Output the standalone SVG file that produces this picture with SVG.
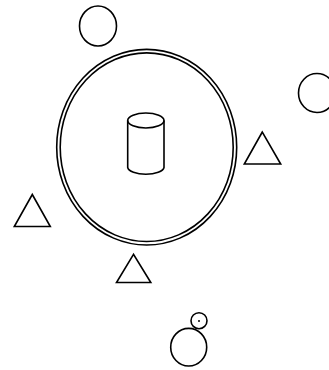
<svg xmlns="http://www.w3.org/2000/svg" width="329" height="370" viewBox="0 0 329 370">
<style>
.s{fill:none;stroke:#000;stroke-width:1.6}
</style>
<rect width="329" height="370" fill="#fff"/>
<g id="top-circle"><ellipse class="s" cx="98" cy="26" rx="18.5" ry="20"/></g>
<g id="right-circle"><ellipse class="s" cx="317" cy="93" rx="18.5" ry="19.5"/></g>
<g id="big-ring">
<ellipse class="s" cx="146.7" cy="147.2" rx="90" ry="97.8"/>
<ellipse class="s" cx="146.7" cy="147.2" rx="86.5" ry="94.3"/>
</g>
<g id="cylinder">
<path class="s" d="M127.7,120.5 V167.5 A18.2,7.3 0 0 0 164,167.5 V120.5"/>
<ellipse class="s" cx="145.85" cy="120.5" rx="18.15" ry="7.5"/>
</g>
<g id="tri-right"><polygon class="s" points="262.3,132 244.3,164 280.7,164"/></g>
<g id="tri-left"><polygon class="s" points="32.3,194.5 14.3,226.5 50.3,226.5"/></g>
<g id="tri-bottom"><polygon class="s" points="133.5,254.3 116.5,282.5 150.8,282.5"/></g>
<g id="bottom-circle"><ellipse class="s" cx="188.7" cy="347.2" rx="18" ry="18.8"/></g>
<g id="small-circle"><circle class="s" cx="199" cy="320.7" r="8"/><circle cx="199" cy="321" r="1" fill="#000"/></g>
<g id="connectors"></g>
</svg>
